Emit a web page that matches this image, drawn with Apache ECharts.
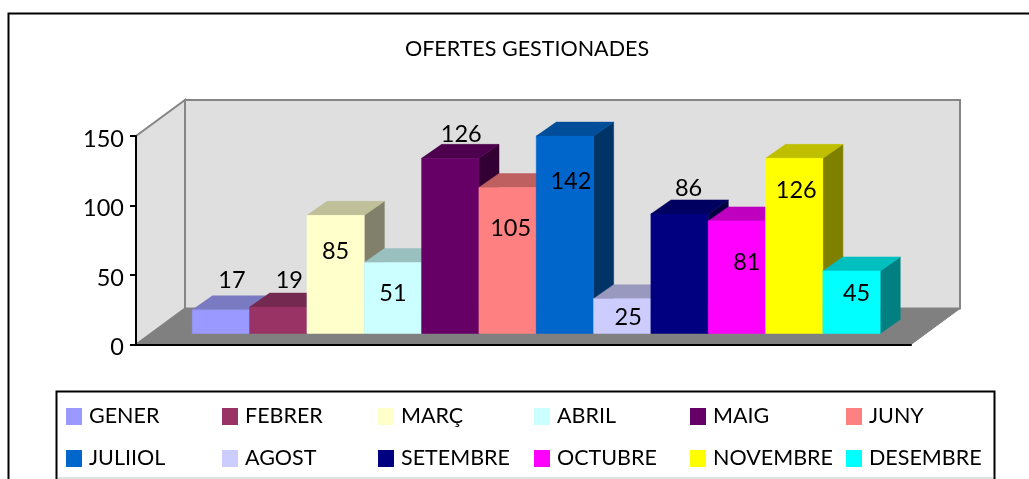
<!DOCTYPE html>
<html><head><meta charset="utf-8">
<style>html,body{margin:0;padding:0;background:#fff}#c{width:1029px;height:479px}</style>
<script src="https://cdn.jsdelivr.net/npm/echarts@6/dist/echarts.min.js"></script>
</head><body><div id="c"></div>
<script>
const months = ['GENER','FEBRER','MARÇ','ABRIL','MAIG','JUNY','JULIIOL','AGOST','SETEMBRE','OCTUBRE','NOVEMBRE','DESEMBRE'];
const values = [17,19,85,51,126,105,142,25,86,81,126,45];
const colors = ['#9999ff','#993366','#ffffcc','#ccffff','#660066','#ff8080','#0066cc','#ccccff','#000080','#ff00ff','#ffff00','#00ffff'];
const topColors = ['#7a7ac2','#732950','#bfbf99','#99bfbf','#4d004d','#bf6060','#004d99','#9999bf','#000060','#bf00bf','#bfbf00','#00bfbf'];
const sideColors = ['#5c5c99','#5c1f3d','#80806b','#6b8080','#330033','#804040','#003366','#666680','#000040','#800080','#808000','#008080'];
const labelDx = [11,11,0,0,11,3,6,6,9,10,2,5];
const labelDy = [-29,-27,36,31,-24,41,45,19,-26,42,32,22];
const categories = ['OFERTES GESTIONADES'];
const yTicks = {min:0,max:150,interval:50};

const DEPTH = {x:49,y:-36}, FRONT = {x:0.26,y:11/36}, BACK = {x:0.67,y:25/36}, GAP = 1.52;
const FONT = 'Lato';

function poly(points, fill, stroke, lw){
  return {type:'polygon',shape:{points},style:{fill,stroke:stroke||fill,lineWidth:lw||0.5}};
}
function renderRoom(params, api){
  const a = api.coord([0,0]), top = api.coord([0,150]);
  const band = api.size([1,0])[0];
  const l = a[0]-band/2, r = a[0]+band/2, y0 = a[1], y1 = top[1];
  const d = DEPTH, s = '#868686';
  return {type:'group',children:[
    poly([[l,y0],[l+d.x,y0+d.y],[l+d.x,y1+d.y],[l,y1]],'#e0e0e0',s,2),
    poly([[l+d.x,y0+d.y],[r+d.x,y0+d.y],[r+d.x,y1+d.y],[l+d.x,y1+d.y]],'#dfdfdf',s,2),
    poly([[l,y0],[r,y0],[r+d.x,y0+d.y],[l+d.x,y0+d.y]],'#808080','#808080',1)
  ]};
}
function renderBar(i){
  return function(params, api){
    const base = api.coord([0,0]), topP = api.coord([0,api.value(1)]);
    const band = api.size([1,0])[0];
    const w = band/(months.length+GAP);
    const x0 = base[0]-band/2 + DEPTH.x*FRONT.x + w*(GAP/2+i), x1 = x0+w;
    const yb = base[1]+DEPTH.y*FRONT.y, yt = topP[1]+DEPTH.y*FRONT.y;
    const ox = DEPTH.x*(BACK.x-FRONT.x), oy = DEPTH.y*(BACK.y-FRONT.y);
    return {type:'group',children:[
      poly([[x1,yb],[x1+ox,yb+oy],[x1+ox,yt+oy],[x1,yt]],sideColors[i]),
      poly([[x0,yt],[x1,yt],[x1+ox,yt+oy],[x0+ox,yt+oy]],topColors[i]),
      poly([[x0,yb],[x1,yb],[x1,yt],[x0,yt]],colors[i]),
      {type:'text',z2:100,style:{x:(x0+x1)/2+labelDx[i],y:yt+labelDy[i],text:String(values[i]),
        fill:'#000',font:'23.5px '+FONT,align:'center',verticalAlign:'middle'}}
    ]};
  };
}
const legendCols = [0,1,2,3,4,5].map(c=>({
  left:66+156*c, top:405.5, orient:'vertical', itemWidth:16, itemHeight:17, itemGap:20, padding:0,
  icon:'rect', selectedMode:false, data:[months[c],months[c+6]],
  textStyle:{fontFamily:FONT,fontSize:21.5,color:'#000',padding:[0,0,0,2]}
}));
const series = [{type:'custom',name:'room',renderItem:renderRoom,data:[[0,0]],silent:true,z:1,clip:false,encode:{x:0,y:1}}]
 .concat(months.map((m,i)=>({type:'custom',name:m,renderItem:renderBar(i),data:[[0,values[i]]],z:2+i,clip:false,encode:{x:0,y:1},
   itemStyle:{color:colors[i]}})));
const chart = echarts.init(document.getElementById('c'),null,{renderer:'canvas'});
chart.setOption({
  animation:false, backgroundColor:'#fff',
  title:{text:categories[0],left:527,top:38,textAlign:'center',padding:0,textStyle:{fontFamily:FONT,fontSize:21.5,fontWeight:'normal',color:'#000'}},
  grid:{left:136,top:136,width:775,height:208.5,containLabel:false},
  xAxis:{type:'category',data:categories,axisLabel:{show:false},axisTick:{show:false},axisLine:{show:true,lineStyle:{color:'#000',width:2}},z:5},
  yAxis:{type:'value',min:yTicks.min,max:yTicks.max,interval:yTicks.interval,splitLine:{show:false},
    axisLine:{show:true,lineStyle:{color:'#000',width:2}},axisTick:{show:true,length:6,lineStyle:{color:'#000',width:2}},
    axisLabel:{fontFamily:FONT,fontSize:23.5,color:'#000',margin:12,verticalAlign:'top',lineHeight:6},z:5},
  legend:legendCols,
  series,
  graphic:[
    {type:'polyline',z:-1,silent:true,shape:{points:[[8.5,480],[8.5,13.5],[1035,13.5]]},style:{fill:'none',stroke:'#000',lineWidth:2}},
    {type:'rect',z:-1,silent:true,shape:{x:56.5,y:391.5,width:938,height:90},style:{fill:'#fff',stroke:'#000',lineWidth:2}},
    {type:'line',z:-1,silent:true,shape:{x1:58,y1:478,x2:993,y2:478},style:{stroke:'#c4c4c4',lineWidth:1}}
  ]
});
</script></body></html>
